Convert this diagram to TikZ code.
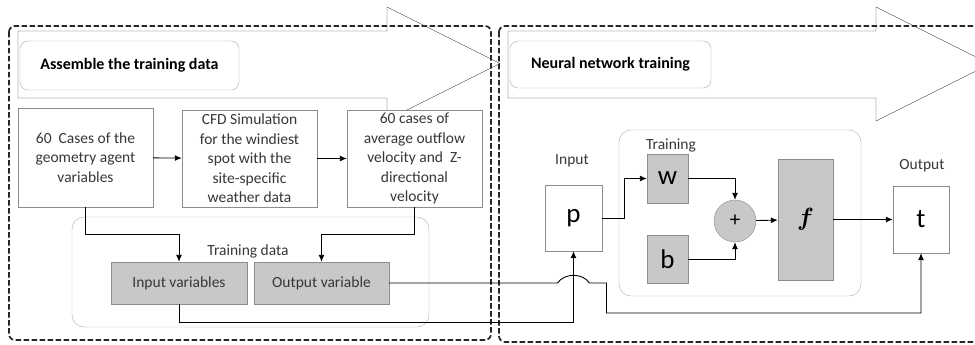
\documentclass[tikz,border=0pt]{standalone}
\usepackage{fontspec}
\setmainfont{Carlito}
\usetikzlibrary{positioning,calc,arrows.meta}

\definecolor{txtgray}{RGB}{55,55,55}
\definecolor{boxgray}{RGB}{140,140,140}
\definecolor{fillgray}{RGB}{200,200,200}
\definecolor{linegray}{RGB}{170,170,170}

\begin{document}
\begin{tikzpicture}[
      x=1pt,y=-1pt,
      every node/.style={font=\fontsize{15.5}{19.5}\selectfont,text=txtgray,inner sep=0pt},
      every path/.style={>={Latex[length=7pt,width=6pt]}},
      stagebox/.style={draw=boxgray,fill=white,align=center},
      varbox/.style={draw=boxgray,fill=fillgray},
      groupbox/.style={draw=linegray,rounded corners=12pt},
      phasebox/.style={draw=linegray,rounded corners=8pt,fill=white,font=\fontsize{16}{18}\selectfont\bfseries,text=black},
      phase/.style={draw=black!85,line width=1.7pt,dash pattern=on 5.5pt off 2.5pt,rounded corners=6pt},
      flow/.style={draw,line width=0.9pt,->},
      bigletter/.style={font=\fontsize{27}{27}\selectfont,text=black},
      ]
      \clip (0,0) rectangle (975,345);
      % dashed stage frames
      \draw[phase] (9,26) rectangle (491,340);
      \draw[phase] (499,26) rectangle (995,342);
      % process arrows
      \draw[black!80] (18,31) -- (387,31) -- (387,7) -- (500,63.5) -- (387,120)
        -- (387,98) -- (18,98) -- cycle;
      \draw[black!80] (508,31) -- (876,31) -- (876,7) -- (990,64) -- (876,121)
        -- (876,98) -- (508,98) -- cycle;
      \node[phasebox,minimum width=219,minimum height=49] (assemble) at (129.5,65.5) {Assemble the training data};
      \node[phasebox,minimum width=201,minimum height=47] (neural) at (610.5,64.5) {Neural network training};

      % assembling the data
      \node[stagebox,minimum width=135,minimum height=99] (cases) at (85.5,157.5)
        {60\ \ Cases of the\\geometry agent\\variables};
      \node[stagebox,minimum width=135,minimum height=97] (cfd) at (249.5,158.5)
        {CFD Simulation\\for the windiest\\spot with the\\site-specific\\weather data};
      \node[stagebox,minimum width=135,minimum height=97] (outflow) at (414.5,158.5)
        {60 cases of\\average outflow\\velocity and\ \ Z-\\directional\\velocity};
      \node[groupbox,minimum width=357,minimum height=110] (traindata) at (250.5,272) {};
      \node (traindatalabel) at (248,251) {Training data};
      \node[varbox,minimum width=136,minimum height=42] (invar) at (179,283) {Input variables};
      \node[varbox,minimum width=135,minimum height=42] (outvar) at (321.5,283) {Output variable};

      % network
      \node[groupbox,minimum width=242,minimum height=166] (training) at (740,213) {};
      \node (traininglabel) at (671,145) {Training};
      \node (inputlabel) at (572,161) {Input};
      \node (outputlabel) at (922,166) {Output};
      \node[stagebox,bigletter,minimum width=57,minimum height=66] (p) at (573.5,218) {p};
      \node[stagebox,bigletter,minimum width=56,minimum height=67] (t) at (921,219.5) {t};
      \node[varbox,bigletter,minimum width=41,minimum height=49] (w) at (667.5,178.5) {w};
      \node[varbox,bigletter,minimum width=41,minimum height=48] (b) at (667.5,259) {b};
      \node[varbox,circle,minimum size=42,text=black,font=\fontsize{21}{21}\selectfont] (plus) at (735,221) {+};
      \node[varbox,minimum width=55,minimum height=121,font=\fontsize{36}{36}\selectfont\boldmath,text=black] (f) at (805.5,219.5) {$f$};

      \path[flow]
      (cases) edge (cfd)
      (cfd) edge (outflow);
      \draw[flow] (cases.south) -- ++(0,27) -| (invar.north);
      \draw[flow] (outflow.south) -- ++(0,27) -| (outvar.north);
      \draw[flow] (invar.south) -- ++(0,18) -| (p.south);
      \draw[flow] (outvar.east) -- ($(p.south |- outvar.east)+(-16,0)$)
        to[out=55,in=125] ++(32,0) -- ++(17,0) -- ++(0,30) -| (t.south);
      \draw[flow] (p.east) -- ++(22,0) |- (w.west);
      \draw[flow] (w.east) -| (plus.north);
      \draw[flow] (b.east) -| (plus.south);
      \draw[flow] (plus) -- (f);
      \draw[flow] (f.east) -- (t.west);
    \end{tikzpicture}
\end{document}
